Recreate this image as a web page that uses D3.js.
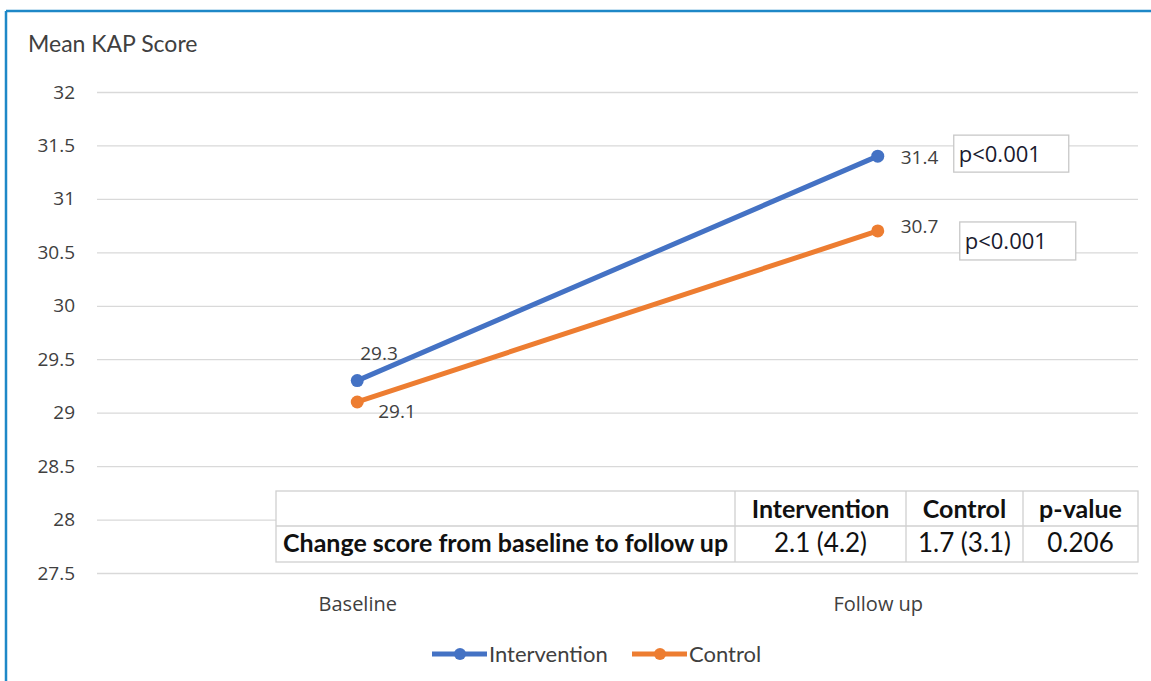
<!DOCTYPE html>
<html>
<head>
<meta charset="utf-8">
<script src="https://cdn.jsdelivr.net/npm/d3@7"></script>
<style>
  html, body { margin: 0; padding: 0; background: #fff; }
  svg { display: block; }
</style>
</head>
<body>
<svg id="chart" width="1151" height="681"></svg>
<script>
// Time points and mean KAP scores per group
const timepoints = ["Baseline", "Follow up"];
const interventionScores = [29.3, 31.4];
const controlScores = [29.1, 30.7];
const yTicks = [27.5, 28, 28.5, 29, 29.5, 30, 30.5, 31, 31.5, 32];
const pLabels = ["p<0.001", "p<0.001"];

// Summary table of change scores
const tableHeader = ["", "Intervention", "Control", "p-value"];
const tableRow = ["Change score from baseline to follow up", "2.1 (4.2)", "1.7 (3.1)", "0.206"];

const series = [
  { name: "Intervention", values: interventionScores, color: "#4472C4" },
  { name: "Control", values: controlScores, color: "#ED7D31" }
];

const svg = d3.select("#chart");
const font = "Lato, 'Open Sans', sans-serif";
const labelFont = "'Open Sans', 'Noto Sans', sans-serif";
const textColor = "#404040";

// Outer frame (top and left edges visible)
svg.append("line").attr("x1", 6).attr("x2", 1151).attr("y1", 11).attr("y2", 11)
  .attr("stroke", "#1E88C7").attr("stroke-width", 2.5);
svg.append("line").attr("x1", 6).attr("x2", 6).attr("y1", 11).attr("y2", 681)
  .attr("stroke", "#1E88C7").attr("stroke-width", 2.5);

const plotLeft = 97, plotRight = 1138;
const x = d3.scalePoint().domain(timepoints).range([plotLeft, plotRight]).padding(0.5);
const y = d3.scaleLinear().domain([27.5, 32]).range([573, 92]);

// Title
svg.append("text").attr("x", 28).attr("y", 52)
  .attr("font-family", font).attr("font-size", 23).attr("fill", textColor)
  .text("Mean KAP Score");

// Gridlines and y axis labels
const yAxis = d3.axisLeft(y).tickValues(yTicks).tickSize(-(plotRight - plotLeft)).tickPadding(22)
  .tickFormat(d => d3.format("")(d));
const gy = svg.append("g").attr("transform", `translate(${plotLeft},0)`).call(yAxis);
gy.select(".domain").remove();
gy.selectAll(".tick line").attr("stroke", "#d9d9d9").attr("stroke-width", 1.3);
gy.selectAll(".tick text").attr("font-family", labelFont).attr("font-size", 19).attr("fill", textColor);

// X axis labels
const xAxis = d3.axisBottom(x).tickSize(0).tickPadding(0);
const gx = svg.append("g").attr("transform", "translate(0,611)").call(xAxis);
gx.select(".domain").remove();
gx.selectAll(".tick text").attr("font-family", labelFont).attr("font-size", 20).attr("fill", textColor)
  .attr("dy", 0);

// Summary table
const colEdges = [276, 735, 906, 1023, 1138];
const rowEdges = [491, 526, 562];
const baselines = [518, 552];
const tbl = svg.append("g");
tbl.append("rect").attr("x", colEdges[0]).attr("y", rowEdges[0])
  .attr("width", colEdges[4] - colEdges[0]).attr("height", rowEdges[2] - rowEdges[0])
  .attr("fill", "#fff").attr("stroke", "#d0d0d0").attr("stroke-width", 1.3);
tbl.append("line").attr("x1", colEdges[0]).attr("x2", colEdges[4])
  .attr("y1", rowEdges[1]).attr("y2", rowEdges[1]).attr("stroke", "#d0d0d0").attr("stroke-width", 1.3);
colEdges.slice(1, 4).forEach(cx => {
  tbl.append("line").attr("x1", cx).attr("x2", cx).attr("y1", rowEdges[0]).attr("y2", rowEdges[2])
    .attr("stroke", "#d0d0d0").attr("stroke-width", 1.3);
});
[tableHeader, tableRow].forEach((row, ri) => {
  row.forEach((cell, ci) => {
    if (!cell) return;
    const first = ci === 0;
    const bold = ri === 0 || first;
    tbl.append("text")
      .attr("x", first ? colEdges[0] + 7 : (colEdges[ci] + colEdges[ci + 1]) / 2)
      .attr("y", baselines[ri])
      .attr("text-anchor", first ? "start" : "middle")
      .attr("font-family", font).attr("font-size", bold ? 25 : 26)
      .attr("font-weight", bold ? "bold" : "normal")
      .attr("fill", "#111")
      .text(cell);
  });
});

// Lines and markers
const line = d3.line().x((d, i) => x(timepoints[i])).y(d => y(d));
series.forEach(s => {
  svg.append("path").datum(s.values).attr("d", line)
    .attr("fill", "none").attr("stroke", s.color).attr("stroke-width", 5).attr("stroke-linecap", "round");
  svg.selectAll(null).data(s.values).enter().append("circle")
    .attr("cx", (d, i) => x(timepoints[i])).attr("cy", d => y(d)).attr("r", 6.5)
    .attr("fill", s.color);
});

// Value labels
const valueLabels = [
  { v: interventionScores[0], i: 0, dx: 3, dy: -21 },
  { v: controlScores[0], i: 0, dx: 21, dy: 16 },
  { v: interventionScores[1], i: 1, dx: 23, dy: 8 },
  { v: controlScores[1], i: 1, dx: 23, dy: 2 }
];
valueLabels.forEach(l => {
  svg.append("text").attr("x", x(timepoints[l.i]) + l.dx).attr("y", y(l.v) + l.dy)
    .attr("font-family", labelFont).attr("font-size", 19).attr("fill", textColor)
    .text(d3.format(".1f")(l.v));
});

// Significance boxes next to follow-up values
const pBoxes = [
  { v: interventionScores[1], dx: 76, dy: -21, w: 115, h: 37 },
  { v: controlScores[1], dx: 82, dy: -9, w: 116, h: 38 }
];
pBoxes.forEach((b, k) => {
  const bx = x(timepoints[1]) + b.dx, by = y(b.v) + b.dy;
  svg.append("rect").attr("x", bx).attr("y", by).attr("width", b.w).attr("height", b.h)
    .attr("fill", "#fff").attr("stroke", "#c8c8c8").attr("stroke-width", 1.3);
  svg.append("text").attr("x", bx + 5).attr("y", by + b.h / 2 + 8)
    .attr("font-family", labelFont).attr("font-size", 22).attr("fill", "#1a1a2e")
    .text(pLabels[k]);
});

// Legend
const legend = svg.append("g");
const legendItems = [{ s: series[0], x: 432 }, { s: series[1], x: 632 }];
legendItems.forEach(it => {
  const ly = 654;
  legend.append("line").attr("x1", it.x).attr("x2", it.x + 55).attr("y1", ly).attr("y2", ly)
    .attr("stroke", it.s.color).attr("stroke-width", 5);
  legend.append("circle").attr("cx", it.x + 28).attr("cy", ly).attr("r", 6).attr("fill", it.s.color);
  legend.append("text").attr("x", it.x + 57).attr("y", ly + 8)
    .attr("font-family", font).attr("font-size", 22).attr("fill", textColor)
    .text(it.s.name);
});
</script>
</body>
</html>
